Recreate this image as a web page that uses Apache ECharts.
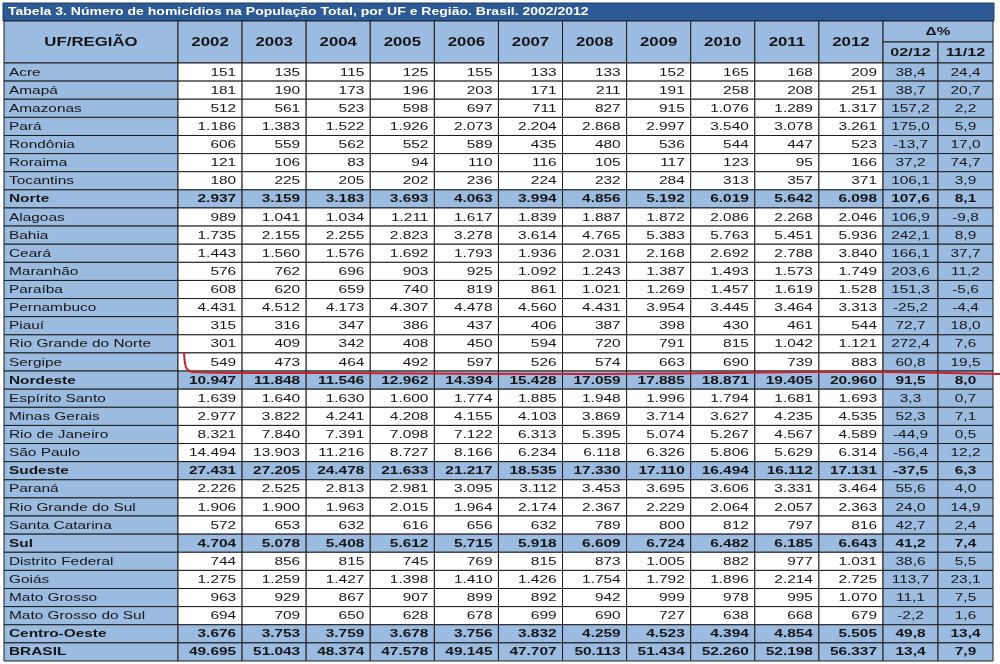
<!DOCTYPE html>
<html>
<head>
<meta charset="utf-8">
<title>Tabela 3 - Homicídios por UF e Região</title>
<script src="https://cdn.jsdelivr.net/npm/echarts@6/dist/echarts.min.js"></script>
<style>
html, body { margin: 0; padding: 0; background: #fff; }
#chart { width: 1000px; height: 664px; }
</style>
</head>
<body>
<div id="chart"></div>
<script>
// dados da tabela
var titulo = 'Tabela 3. Número de homicídios na População Total, por UF e Região. Brasil. 2002/2012';
var cabecalhoUF = 'UF/REGIÃO';
var anos = ['2002', '2003', '2004', '2005', '2006', '2007', '2008', '2009', '2010', '2011', '2012'];
var cabecalhoDelta = 'Δ%';
var periodos = ['02/12', '11/12'];

var ufs = ['Acre', 'Amapá', 'Amazonas', 'Pará', 'Rondônia', 'Roraima', 'Tocantins', 'Norte',
  'Alagoas', 'Bahia', 'Ceará', 'Maranhão', 'Paraíba', 'Pernambuco', 'Piauí', 'Rio Grande do Norte', 'Sergipe', 'Nordeste',
  'Espírito Santo', 'Minas Gerais', 'Rio de Janeiro', 'São Paulo', 'Sudeste',
  'Paraná', 'Rio Grande do Sul', 'Santa Catarina', 'Sul',
  'Distrito Federal', 'Goiás', 'Mato Grosso', 'Mato Grosso do Sul', 'Centro-Oeste',
  'BRASIL'];
var regioes = ['Norte', 'Nordeste', 'Sudeste', 'Sul', 'Centro-Oeste', 'BRASIL'];

var v2002 = [151, 181, 512, 1186, 606, 121, 180, 2937, 989, 1735, 1443, 576, 608, 4431, 315, 301, 549, 10947, 1639, 2977, 8321, 14494, 27431, 2226, 1906, 572, 4704, 744, 1275, 963, 694, 3676, 49695];
var v2003 = [135, 190, 561, 1383, 559, 106, 225, 3159, 1041, 2155, 1560, 762, 620, 4512, 316, 409, 473, 11848, 1640, 3822, 7840, 13903, 27205, 2525, 1900, 653, 5078, 856, 1259, 929, 709, 3753, 51043];
var v2004 = [115, 173, 523, 1522, 562, 83, 205, 3183, 1034, 2255, 1576, 696, 659, 4173, 347, 342, 464, 11546, 1630, 4241, 7391, 11216, 24478, 2813, 1963, 632, 5408, 815, 1427, 867, 650, 3759, 48374];
var v2005 = [125, 196, 598, 1926, 552, 94, 202, 3693, 1211, 2823, 1692, 903, 740, 4307, 386, 408, 492, 12962, 1600, 4208, 7098, 8727, 21633, 2981, 2015, 616, 5612, 745, 1398, 907, 628, 3678, 47578];
var v2006 = [155, 203, 697, 2073, 589, 110, 236, 4063, 1617, 3278, 1793, 925, 819, 4478, 437, 450, 597, 14394, 1774, 4155, 7122, 8166, 21217, 3095, 1964, 656, 5715, 769, 1410, 899, 678, 3756, 49145];
var v2007 = [133, 171, 711, 2204, 435, 116, 224, 3994, 1839, 3614, 1936, 1092, 861, 4560, 406, 594, 526, 15428, 1885, 4103, 6313, 6234, 18535, 3112, 2174, 632, 5918, 815, 1426, 892, 699, 3832, 47707];
var v2008 = [133, 211, 827, 2868, 480, 105, 232, 4856, 1887, 4765, 2031, 1243, 1021, 4431, 387, 720, 574, 17059, 1948, 3869, 5395, 6118, 17330, 3453, 2367, 789, 6609, 873, 1754, 942, 690, 4259, 50113];
var v2009 = [152, 191, 915, 2997, 536, 117, 284, 5192, 1872, 5383, 2168, 1387, 1269, 3954, 398, 791, 663, 17885, 1996, 3714, 5074, 6326, 17110, 3695, 2229, 800, 6724, 1005, 1792, 999, 727, 4523, 51434];
var v2010 = [165, 258, 1076, 3540, 544, 123, 313, 6019, 2086, 5763, 2692, 1493, 1457, 3445, 430, 815, 690, 18871, 1794, 3627, 5267, 5806, 16494, 3606, 2064, 812, 6482, 882, 1896, 978, 638, 4394, 52260];
var v2011 = [168, 208, 1289, 3078, 447, 95, 357, 5642, 2268, 5451, 2788, 1573, 1619, 3464, 461, 1042, 739, 19405, 1681, 4235, 4567, 5629, 16112, 3331, 2057, 797, 6185, 977, 2214, 995, 668, 4854, 52198];
var v2012 = [209, 251, 1317, 3261, 523, 166, 371, 6098, 2046, 5936, 3840, 1749, 1528, 3313, 544, 1121, 883, 20960, 1693, 4535, 4589, 6314, 17131, 3464, 2363, 816, 6643, 1031, 2725, 1070, 679, 5505, 56337];

var delta0212 = [38.4, 38.7, 157.2, 175.0, -13.7, 37.2, 106.1, 107.6, 106.9, 242.1, 166.1, 203.6, 151.3, -25.2, 72.7, 272.4, 60.8, 91.5, 3.3, 52.3, -44.9, -56.4, -37.5, 55.6, 24.0, 42.7, 41.2, 38.6, 113.7, 11.1, -2.2, 49.8, 13.4];
var delta1112 = [24.4, 20.7, 2.2, 5.9, 17.0, 74.7, 3.9, 8.1, -9.8, 8.9, 37.7, 11.2, -5.6, -4.4, 18.0, 7.6, 19.5, 8.0, 0.7, 7.1, 0.5, 12.2, 6.3, 4.0, 14.9, 2.4, 7.4, 5.5, 23.1, 7.5, 1.6, 13.4, 7.9];

var colunasAnos = [v2002, v2003, v2004, v2005, v2006, v2007, v2008, v2009, v2010, v2011, v2012];
var colunasDelta = [delta0212, delta1112];

// cores e fontes
var AZUL = '#9cbbe0';
var AZUL_ESCURO = '#2d5a94';
var BORDA = '#1e1e1e';
var FONTE = '"Liberation Sans", Arial, sans-serif';
var ESTICA = 1.4; // a imagem original esta esticada na horizontal

function fmtInt(n) {
  return String(n).replace(/\B(?=(\d{3})+(?!\d))/g, '.');
}
function fmtPct(n) {
  return n.toFixed(1).replace('.', ',');
}
function ehRegiao(i) {
  return regioes.indexOf(ufs[i]) >= 0;
}

// monta as celulas de cada bloco
var cabNome = [{ col: 0, row: 0, h: 2, text: cabecalhoUF, fill: AZUL, bold: true, align: 'center', size: 12 }];
var cabAnos = anos.map(function (a, j) {
  return { col: j, row: 0, h: 2, text: a, fill: AZUL, bold: true, align: 'center', size: 12 };
});
var cabDelta = [
  { col: 0, row: 0, w: 2, text: cabecalhoDelta, fill: AZUL, bold: true, align: 'center', size: 11 },
  { col: 0, row: 1, text: periodos[0], fill: AZUL, bold: true, align: 'center', size: 11.5 },
  { col: 1, row: 1, text: periodos[1], fill: AZUL, bold: true, align: 'center', size: 11.5 }
];

var corpoNome = [], corpoAnos = [], corpoDelta = [];
ufs.forEach(function (uf, i) {
  var r = ehRegiao(i);
  corpoNome.push({ col: 0, row: i, text: uf, fill: AZUL, bold: r, align: 'left', size: 11 });
  colunasAnos.forEach(function (col, j) {
    corpoAnos.push({ col: j, row: i, text: fmtInt(col[i]), fill: r ? AZUL : '#fff', bold: r, align: 'right', size: 11 });
  });
  colunasDelta.forEach(function (col, j) {
    corpoDelta.push({ col: j, row: i, text: fmtPct(col[i]), fill: AZUL, bold: r, align: 'center', size: 11 });
  });
});

function desenhaCelulas(cells) {
  return function (params, api) {
    var cel = cells[params.dataIndex];
    var c = api.coord([api.value(0), api.value(1)]);
    var s = api.size([1, 1]);
    var w = s[0] * (cel.w || 1);
    var h = s[1] * (cel.h || 1);
    var x0 = c[0] - s[0] / 2;
    var y0 = c[1] - s[1] / 2;
    var tx = cel.align === 'left' ? x0 + 5 : cel.align === 'right' ? x0 + w - 6 : x0 + w / 2;
    return {
      type: 'group',
      children: [{
        type: 'rect',
        shape: { x: x0, y: y0, width: w, height: h },
        style: { fill: cel.fill, stroke: BORDA, lineWidth: 1 }
      }, {
        type: 'text',
        x: tx,
        y: y0 + h / 2 + 0.5,
        scaleX: ESTICA,
        style: {
          text: cel.text,
          align: cel.align,
          verticalAlign: 'middle',
          fontFamily: FONTE,
          fontSize: cel.size,
          fontWeight: cel.bold ? 'bold' : 'normal',
          fill: '#161616'
        }
      }]
    };
  };
}

// blocos: [celulas, categorias x, categorias y, left, width, top, height]
var ESQ = 4, FIM_NOME = 178, FIM_ANOS = 883, DIR = 993;
var TOPO_CAB = 21, TOPO_CORPO = 63, BASE = 661;
var blocos = [
  [cabNome, [cabecalhoUF], ['h1', 'h2'], ESQ, FIM_NOME - ESQ, TOPO_CAB, TOPO_CORPO - TOPO_CAB],
  [cabAnos, anos, ['h1', 'h2'], FIM_NOME, FIM_ANOS - FIM_NOME, TOPO_CAB, TOPO_CORPO - TOPO_CAB],
  [cabDelta, periodos, ['h1', 'h2'], FIM_ANOS, DIR - FIM_ANOS, TOPO_CAB, TOPO_CORPO - TOPO_CAB],
  [corpoNome, [cabecalhoUF], ufs, ESQ, FIM_NOME - ESQ, TOPO_CORPO, BASE - TOPO_CORPO],
  [corpoAnos, anos, ufs, FIM_NOME, FIM_ANOS - FIM_NOME, TOPO_CORPO, BASE - TOPO_CORPO],
  [corpoDelta, periodos, ufs, FIM_ANOS, DIR - FIM_ANOS, TOPO_CORPO, BASE - TOPO_CORPO]
];

var grids = [], xAxes = [], yAxes = [], series = [];
blocos.forEach(function (b, k) {
  grids.push({ left: b[3], width: b[4], top: b[5], height: b[6] });
  xAxes.push({ type: 'category', gridIndex: k, data: b[1], show: false });
  yAxes.push({ type: 'category', gridIndex: k, data: b[2], inverse: true, show: false });
  series.push({
    type: 'custom',
    xAxisIndex: k,
    yAxisIndex: k,
    renderItem: desenhaCelulas(b[0]),
    data: b[0].map(function (cel) { return [cel.col, cel.row]; }),
    silent: true
  });
});

var tituloGraficos = [{
  id: 'barra',
  type: 'rect',
  shape: { x: 3, y: 3, width: DIR - 2, height: 18 },
  style: { fill: AZUL_ESCURO, stroke: '#1f3f6b', lineWidth: 1 }
}, {
  id: 'titulo',
  type: 'text',
  x: 8,
  y: 12.5,
  scaleX: ESTICA,
  style: {
    text: titulo,
    fill: '#fff',
    fontFamily: FONTE,
    fontSize: 10,
    fontWeight: 'bold',
    verticalAlign: 'middle'
  }
}];

var myChart = echarts.init(document.getElementById('chart'));
var option = {
  backgroundColor: '#fff',
  animation: false,
  grid: grids,
  xAxis: xAxes,
  yAxis: yAxes,
  graphic: tituloGraficos,
  series: series
};
myChart.setOption(option);

// risco vermelho feito a mao abaixo de Sergipe, posicionado pelos eixos
var cSergipe = myChart.convertToPixel({ gridIndex: 4 }, ['2002', 'Sergipe']);
var cFim = myChart.convertToPixel({ gridIndex: 4 }, ['2012', 'Sergipe']);
var meiaCol = (FIM_ANOS - FIM_NOME) / anos.length / 2;
var meiaLin = (BASE - TOPO_CORPO) / ufs.length / 2;
var xi = cSergipe[0] - meiaCol, yt = cSergipe[1] - meiaLin, yb = cSergipe[1] + meiaLin;
var xf = cFim[0] + meiaCol;
myChart.setOption({
  graphic: tituloGraficos.concat([{
    id: 'risco',
    type: 'polyline',
    z: 100,
    zlevel: 1,
    shape: {
      smooth: 0.3,
      points: [[xi + 6, yt - 1], [xi + 8, yb - 4], [xi + 14, yb + 1], [xi + 160, yb + 2], [xi + 420, yb + 3], [xf - 80, yb + 1], [xf, yb + 1], [1000, yb + 3]]
    },
    style: { stroke: '#d0202c', lineWidth: 2, fill: null }
  }])
});
</script>
</body>
</html>
